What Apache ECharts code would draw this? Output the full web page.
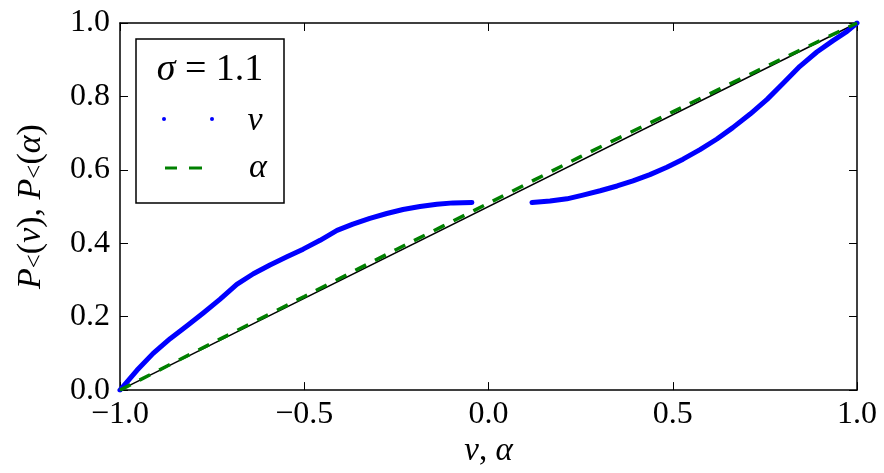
<!DOCTYPE html>
<html>
<head>
<meta charset="utf-8">
<script src="https://cdn.jsdelivr.net/npm/echarts@6/dist/echarts.min.js"></script>
<style>
html,body{margin:0;padding:0;background:#fff;}
#chart{width:884px;height:473px;}
</style>
</head>
<body>
<div id="chart"></div>
<script>
// ---- data ----
const vLeftX = [-1.0, -0.954, -0.910, -0.864, -0.818, -0.774, -0.729, -0.683, -0.638, -0.593, -0.547, -0.503, -0.457, -0.411, -0.368, -0.322, -0.276, -0.232, -0.186, -0.140, -0.096, -0.045];
const vLeftP = [0.0, 0.054, 0.100, 0.140, 0.175, 0.210, 0.247, 0.288, 0.317, 0.341, 0.363, 0.384, 0.408, 0.435, 0.452, 0.468, 0.481, 0.492, 0.500, 0.506, 0.510, 0.511];
const vRightX = [0.118, 0.167, 0.213, 0.256, 0.303, 0.349, 0.392, 0.438, 0.484, 0.528, 0.574, 0.620, 0.663, 0.710, 0.756, 0.799, 0.845, 0.891, 0.935, 0.973, 1.0];
const vRightP = [0.511, 0.515, 0.521, 0.531, 0.543, 0.556, 0.570, 0.587, 0.607, 0.629, 0.655, 0.684, 0.715, 0.752, 0.792, 0.835, 0.882, 0.921, 0.952, 0.977, 1.0];
const alphaX = [-1.0, -0.75, -0.5, -0.25, 0.0, 0.25, 0.5, 0.75, 1.0];
const alphaP = [0.0, 0.128, 0.255, 0.383, 0.509, 0.636, 0.758, 0.880, 1.0];
const diagX = [-1.0, 1.0];
const diagP = [0.0, 1.0];
const xTicks = [-1.0, -0.5, 0.0, 0.5, 1.0];
const yTicks = [0.0, 0.2, 0.4, 0.6, 0.8, 1.0];
const legendV = 'v';
const legendA = 'α';

const zip = (xs, ys) => xs.map((x, i) => [x, ys[i]]);
const FONT = '"Liberation Serif", "Times New Roman", Times, "DejaVu Serif", serif';
const fmt = v => v.toFixed(1).replace('-', '\u2212');

const chart = echarts.init(document.getElementById('chart'), null, {renderer: 'canvas'});

const tickCommon = {show: true, inside: true, length: 8, lineStyle: {color: '#000', width: 1}};
const lineCommon = {show: true, onZero: false, lineStyle: {color: '#000', width: 1.5}};

const option = {
  backgroundColor: '#fff',
  animation: false,
  grid: {left: 120, right: 27, top: 23, bottom: 78, containLabel: false},
  xAxis: [{
    type: 'value', min: xTicks[0], max: xTicks[xTicks.length - 1], interval: 0.5,
    position: 'bottom',
    axisLine: lineCommon, axisTick: tickCommon, splitLine: {show: false},
    axisLabel: {formatter: fmt, color: '#000', fontFamily: FONT, fontSize: 32, margin: 8},
    name: '{i|v}{n|, }{i|α}', nameLocation: 'middle', nameGap: 44,
    nameTextStyle: {rich: {
      i: {fontFamily: FONT, fontStyle: 'italic', fontSize: 33, color: '#000'},
      n: {fontFamily: FONT, fontSize: 33, color: '#000'}
    }}
  }, {
    type: 'value', min: xTicks[0], max: xTicks[xTicks.length - 1], interval: 0.5,
    position: 'top',
    axisLine: lineCommon, axisTick: tickCommon, splitLine: {show: false},
    axisLabel: {show: false}
  }],
  yAxis: [{
    type: 'value', min: yTicks[0], max: yTicks[yTicks.length - 1], interval: 0.2,
    position: 'left',
    axisLine: lineCommon, axisTick: tickCommon, splitLine: {show: false},
    axisLabel: {formatter: fmt, color: '#000', fontFamily: FONT, fontSize: 32, margin: 10},
    name: '{i|P}{s|<}{n|(}{i|v}{n|), }{i|P}{s|<}{n|(}{i|α}{n|)}',
    nameLocation: 'middle', nameGap: 72, nameRotate: 90,
    nameTextStyle: {rich: {
      i: {fontFamily: FONT, fontStyle: 'italic', fontSize: 34, color: '#000', verticalAlign: 'bottom', lineHeight: 42},
      n: {fontFamily: FONT, fontSize: 34, color: '#000', verticalAlign: 'bottom', lineHeight: 42},
      s: {fontFamily: FONT, fontSize: 25, color: '#000', verticalAlign: 'bottom', lineHeight: 32}
    }}
  }, {
    type: 'value', min: yTicks[0], max: yTicks[yTicks.length - 1], interval: 0.2,
    position: 'right',
    axisLine: lineCommon, axisTick: tickCommon, splitLine: {show: false},
    axisLabel: {show: false}
  }],
  series: [
    {type: 'line', name: 'diag', data: zip(diagX, diagP), showSymbol: false, lineStyle: {color: '#000', width: 1.5}, z: 2},
    {type: 'line', name: 'v-left', data: zip(vLeftX, vLeftP), showSymbol: false, smooth: false, lineStyle: {color: '#0000ff', width: 5, join: 'round', cap: 'round'}, z: 3},
    {type: 'line', name: 'v-right', data: zip(vRightX, vRightP), showSymbol: false, smooth: false, lineStyle: {color: '#0000ff', width: 5, join: 'round', cap: 'round'}, z: 3},
    {type: 'line', name: 'alpha', data: zip(alphaX, alphaP), showSymbol: false, smooth: 0.2, lineStyle: {color: '#008000', width: 3.5, type: [12, 10]}, z: 4}
  ],
  graphic: [
    {type: 'rect', shape: {x: 136, y: 39, width: 148, height: 164}, style: {fill: '#fff', stroke: '#000', lineWidth: 1.5}, z: 100},
    {type: 'text', x: 210, y: 70, style: {text: '{i|σ}{n| = 1.1}', rich: {
      i: {fontFamily: FONT, fontStyle: 'italic', fontSize: 38, fill: '#000'},
      n: {fontFamily: FONT, fontSize: 38, fill: '#000'}
    }, textAlign: 'center', textVerticalAlign: 'middle'}, z: 101},
    {type: 'circle', shape: {cx: 164, cy: 119, r: 2}, style: {fill: '#0000ff'}, z: 101},
    {type: 'circle', shape: {cx: 212, cy: 119, r: 2}, style: {fill: '#0000ff'}, z: 101},
    {type: 'text', x: 255, y: 121, style: {text: legendV, fontFamily: FONT, fontStyle: 'italic', fontSize: 34, fill: '#000', textAlign: 'center', textVerticalAlign: 'middle'}, z: 101},
    {type: 'line', shape: {x1: 165, y1: 168, x2: 177, y2: 168}, style: {stroke: '#008000', lineWidth: 3}, z: 101},
    {type: 'line', shape: {x1: 189, y1: 168, x2: 202, y2: 168}, style: {stroke: '#008000', lineWidth: 3}, z: 101},
    {type: 'text', x: 258, y: 168, style: {text: legendA, fontFamily: FONT, fontStyle: 'italic', fontSize: 34, fill: '#000', textAlign: 'center', textVerticalAlign: 'middle'}, z: 101}
  ]
};
chart.setOption(option);
</script>
</body>
</html>
